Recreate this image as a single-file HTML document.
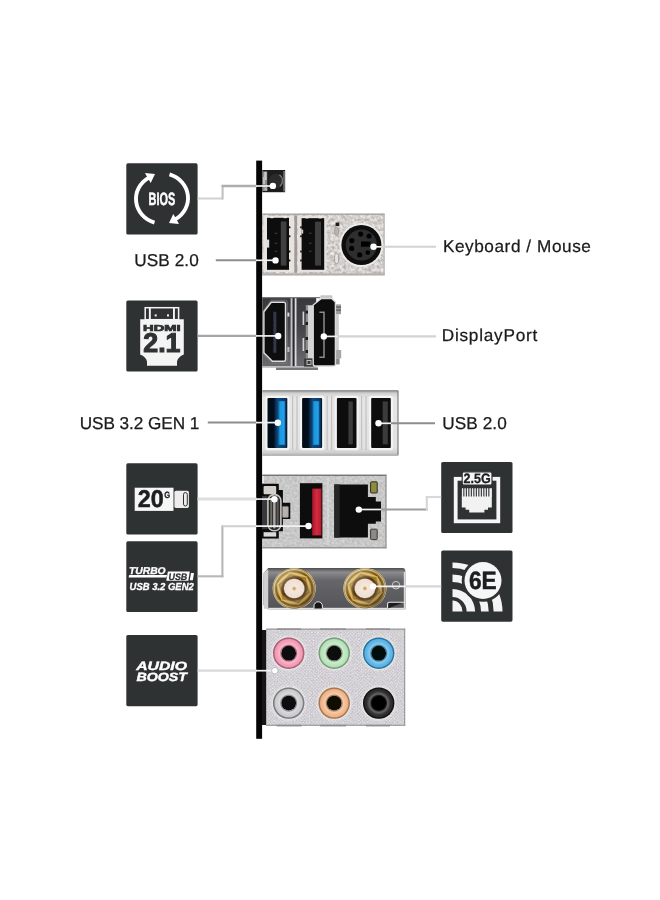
<!DOCTYPE html>
<html lang="en">
<head>
<meta charset="utf-8">
<title>Rear I/O Ports</title>
<style>
html,body{margin:0;padding:0;background:#fff;}
body{width:660px;height:900px;overflow:hidden;position:relative;}
svg{position:absolute;left:0;top:0;display:block;}
text{text-rendering:geometricPrecision;}
.lbl{font-family:"Liberation Sans",sans-serif;font-size:17.2px;fill:#1b1b1b;stroke:#1b1b1b;stroke-width:0.25px;}
.ic{font-family:"Liberation Sans",sans-serif;font-weight:bold;fill:#fff;}
</style>
</head>
<body>
<svg width="660" height="900" viewBox="0 0 660 900">
<defs>
<filter id="soft" x="-5%" y="-5%" width="110%" height="110%"><feGaussianBlur stdDeviation="0.45"/></filter>
<filter id="soft2" x="-5%" y="-5%" width="110%" height="110%"><feGaussianBlur stdDeviation="0.3"/></filter>
<filter id="tex" x="0" y="0" width="100%" height="100%" color-interpolation-filters="sRGB">
  <feTurbulence type="fractalNoise" baseFrequency="0.32" numOctaves="2" seed="7" result="n"/>
  <feColorMatrix in="n" type="matrix" values="1 0 0 0 0  1 0 0 0 0  1 0 0 0 0  0 0 0 0 1" result="g"/>
  <feComposite in="SourceGraphic" in2="g" operator="arithmetic" k1="0" k2="1" k3="0.44" k4="-0.22" result="c"/>
  <feComposite in="c" in2="SourceGraphic" operator="in"/>
</filter>
<filter id="tex3" x="0" y="0" width="100%" height="100%" color-interpolation-filters="sRGB">
  <feTurbulence type="fractalNoise" baseFrequency="0.4" numOctaves="2" seed="21" result="n"/>
  <feColorMatrix in="n" type="matrix" values="1 0 0 0 0  1 0 0 0 0  1 0 0 0 0  0 0 0 0 1" result="g"/>
  <feComposite in="SourceGraphic" in2="g" operator="arithmetic" k1="0" k2="1" k3="0.2" k4="-0.1" result="c"/>
  <feComposite in="c" in2="SourceGraphic" operator="in"/>
</filter>
<filter id="tex2" x="0" y="0" width="100%" height="100%" color-interpolation-filters="sRGB">
  <feTurbulence type="fractalNoise" baseFrequency="0.75" numOctaves="2" seed="11" result="n"/>
  <feColorMatrix in="n" type="matrix" values="1 0 0 0 0  1 0 0 0 0  1 0 0 0 0  0 0 0 0 1" result="g"/>
  <feComposite in="SourceGraphic" in2="g" operator="arithmetic" k1="0" k2="1" k3="0.2" k4="-0.1" result="c"/>
  <feComposite in="c" in2="SourceGraphic" operator="in"/>
</filter>
<linearGradient id="silverV" x1="0" y1="0" x2="0" y2="1">
  <stop offset="0" stop-color="#b9b5b1"/><stop offset="0.06" stop-color="#d6d2cf"/>
  <stop offset="0.9" stop-color="#cdc9c6"/><stop offset="1" stop-color="#aaa6a3"/>
</linearGradient>
<linearGradient id="usb3V" x1="0" y1="0" x2="0" y2="1">
  <stop offset="0" stop-color="#9a9a9a"/><stop offset="0.05" stop-color="#d2d2d2"/>
  <stop offset="0.12" stop-color="#e6e6e6"/><stop offset="0.88" stop-color="#e2e2e2"/>
  <stop offset="0.95" stop-color="#cfcfcf"/><stop offset="1" stop-color="#b4b4b4"/>
</linearGradient>
<linearGradient id="blueT" x1="0" y1="0" x2="1" y2="0">
  <stop offset="0" stop-color="#1272b0"/><stop offset="0.3" stop-color="#1d9ae2"/><stop offset="0.8" stop-color="#22a0e8"/><stop offset="1" stop-color="#1474b8"/>
</linearGradient>
<linearGradient id="redT" x1="0" y1="0" x2="1" y2="0">
  <stop offset="0" stop-color="#a81a2a"/><stop offset="0.5" stop-color="#d62a40"/><stop offset="1" stop-color="#b41c2e"/>
</linearGradient>
<linearGradient id="antV" x1="0" y1="0" x2="0" y2="1">
  <stop offset="0" stop-color="#4a4a4c"/><stop offset="0.1" stop-color="#8c8c8e"/>
  <stop offset="0.3" stop-color="#66666a"/><stop offset="1" stop-color="#545458"/>
</linearGradient>
<radialGradient id="gold" cx="0.5" cy="0.5" r="0.5">
  <stop offset="0" stop-color="#f5eae0"/><stop offset="0.46" stop-color="#f0dfd2"/>
  <stop offset="0.52" stop-color="#46290a"/><stop offset="0.6" stop-color="#6a4810"/>
  <stop offset="0.66" stop-color="#cfa444"/><stop offset="0.78" stop-color="#c0933a"/>
  <stop offset="0.84" stop-color="#644412"/><stop offset="0.9" stop-color="#86601c"/>
  <stop offset="0.95" stop-color="#dfbe62"/><stop offset="1" stop-color="#70501c"/>
</radialGradient>
<linearGradient id="goldSh" x1="0.15" y1="0.1" x2="0.85" y2="0.9">
  <stop offset="0" stop-color="#fff6c8" stop-opacity="0.5"/><stop offset="0.45" stop-color="#fff" stop-opacity="0"/>
  <stop offset="1" stop-color="#241400" stop-opacity="0.5"/>
</linearGradient>
<linearGradient id="navy" x1="0" y1="0" x2="1" y2="0">
  <stop offset="0" stop-color="#040a14"/><stop offset="0.3" stop-color="#05101f"/><stop offset="0.52" stop-color="#0b4a7c"/><stop offset="0.9" stop-color="#0a3a64"/><stop offset="1" stop-color="#040e1c"/>
</linearGradient>
<linearGradient id="hdmiBg" x1="0" y1="0" x2="0" y2="1">
  <stop offset="0" stop-color="#38383c"/><stop offset="0.45" stop-color="#45454a"/><stop offset="1" stop-color="#6c6c70"/>
</linearGradient>
<pattern id="dots" width="2.4" height="2.4" patternUnits="userSpaceOnUse" patternTransform="rotate(45 266 628)">
  <rect width="2.4" height="2.4" fill="#cac8cc"/><circle cx="1.2" cy="1.2" r="0.85" fill="#e4e2e6"/>
</pattern>
<radialGradient id="jackSh" cx="0.5" cy="0.5" r="0.5">
  <stop offset="0.46" stop-color="#000" stop-opacity="0"/><stop offset="0.5" stop-color="#000" stop-opacity="0.35"/>
  <stop offset="0.58" stop-color="#fff" stop-opacity="0.28"/><stop offset="0.78" stop-color="#fff" stop-opacity="0"/>
  <stop offset="0.9" stop-color="#000" stop-opacity="0.05"/><stop offset="1" stop-color="#000" stop-opacity="0.2"/>
</radialGradient>
<radialGradient id="halo" cx="0.5" cy="0.5" r="0.5">
  <stop offset="0.8" stop-color="#fff" stop-opacity="0.5"/><stop offset="1" stop-color="#fff" stop-opacity="0"/>
</radialGradient>

</defs>

<g opacity="0.999">
<!-- ===== back plate bar ===== -->
<rect x="256.2" y="160.6" width="5.9" height="578.2" fill="#050505"/>

<!-- ===== icon boxes ===== -->
<g fill="#2f3233">
<rect x="126.3" y="163.3" width="71.3" height="71.2" rx="1.6"/>
<rect x="126.3" y="300.4" width="71.3" height="71.2" rx="1.6"/>
<rect x="126.3" y="463.3" width="71.3" height="71.2" rx="1.6"/>
<rect x="126.3" y="541.3" width="71.3" height="70.8" rx="1.6"/>
<rect x="126.3" y="635" width="71.3" height="71.2" rx="1.6"/>
<rect x="441.2" y="462" width="71.3" height="71.1" rx="1.6"/>
<rect x="441.2" y="550.5" width="71.3" height="71.2" rx="1.6"/>
</g>

<!-- ===== BIOS flash button ===== -->
<g filter="url(#soft2)">
<rect x="262.3" y="170" width="22.8" height="22.2" fill="#1b1b1b"/>
<rect x="262.6" y="171.4" width="4.6" height="19.6" fill="#8c8c8c"/>
<rect x="264.2" y="172" width="2.4" height="8" fill="#c8c8c8"/><rect x="263" y="177" width="2" height="7" fill="#bdbdbd"/><rect x="264.6" y="187.6" width="2.6" height="3" fill="#b4b4b4"/>
<rect x="283.2" y="171" width="1.9" height="20.4" fill="#6e6e6e"/>
<circle cx="276" cy="181" r="7.4" fill="#2a2a2a"/>
<path d="M279.4 174.8a7.4 7.4 0 0 1 0.4 11.6" fill="none" stroke="#7a7a7a" stroke-width="1.2"/>
</g>

<!-- ===== USB 2.0 + PS/2 block ===== -->
<g filter="url(#soft2)">
<rect x="262.2" y="213.7" width="122.2" height="61.6" fill="#d3cfcd" filter="url(#tex)"/>
<rect x="262.2" y="213.6" width="122.4" height="1.3" fill="#a9a5a2"/>
<rect x="262.2" y="273.4" width="122.4" height="2" fill="#b4b0ad"/>
<rect x="383.5" y="213.7" width="1.1" height="61.6" fill="#b6b2af"/>
<rect x="263.4" y="216" width="30.6" height="56" fill="#e9e3e0"/>
<rect x="297.6" y="216" width="29" height="56" fill="#e6e1de"/>
<rect x="294.4" y="215.4" width="2.6" height="57.4" fill="#9e9a98"/>
<rect x="267" y="217.8" width="22" height="52" fill="#0c0c0c"/>
<rect x="280.8" y="221.4" width="5.6" height="44.2" fill="#414141"/>
<rect x="266.6" y="239.6" width="2.6" height="8" fill="#e2dcd8"/>
<g fill="#0c0c0c"><rect x="288.8" y="226.4" width="1.6" height="1.8"/><rect x="288.8" y="235.4" width="1.6" height="1.8"/><rect x="288.8" y="250.6" width="1.6" height="1.8"/><rect x="288.8" y="259.6" width="1.6" height="1.8"/></g>
<rect x="270.4" y="216.4" width="3" height="1.8" fill="#f2eeec"/><rect x="283.6" y="216.4" width="3" height="1.8" fill="#f2eeec"/>
<rect x="301.6" y="218.2" width="22.6" height="51.6" fill="#0c0c0c"/>
<rect x="315" y="221.6" width="6" height="44" fill="#3e3e3e"/>
<g fill="#0c0c0c"><rect x="300.2" y="226.4" width="1.6" height="1.8"/><rect x="300.2" y="235.4" width="1.6" height="1.8"/><rect x="300.2" y="250.6" width="1.6" height="1.8"/><rect x="300.2" y="259.6" width="1.6" height="1.8"/></g><rect x="301.4" y="229.6" width="1.8" height="4" fill="#d8d2ce"/>

<rect x="305.4" y="216.6" width="3" height="1.8" fill="#f2eeec"/><rect x="318.6" y="216.6" width="3" height="1.8" fill="#f2eeec"/>
<g fill="#3a3a3a"><rect x="274.6" y="232.6" width="2.6" height="1.2"/><rect x="274.6" y="242.6" width="2.6" height="1.2"/><rect x="274.6" y="250.6" width="2.6" height="1.2"/>
<rect x="309" y="232.6" width="2.6" height="1.2"/><rect x="309" y="242.6" width="2.6" height="1.2"/><rect x="309" y="250.6" width="2.6" height="1.2"/></g>
<rect x="335.6" y="222.6" width="3.6" height="3.4" fill="#1a1a1a"/>
<rect x="334.6" y="227.4" width="4" height="8" rx="2" fill="#b8b4b0" stroke="#8e8a86" stroke-width="0.6"/>
<rect x="334.6" y="253.6" width="4" height="10" rx="2" fill="#e6e2de" stroke="#8e8a86" stroke-width="0.7"/>
<circle cx="361.4" cy="245" r="22" fill="#efecea"/>
<circle cx="361.4" cy="245" r="20" fill="#0e0e0e"/>
<circle cx="361.4" cy="245" r="15.6" fill="#2d2d2d"/>
<g fill="#060606">
<circle cx="360.6" cy="234" r="2.6"/><circle cx="369" cy="236" r="2.6"/>
<circle cx="351.8" cy="240.6" r="2.6"/><circle cx="351.6" cy="248.4" r="2.6"/>
<circle cx="359.6" cy="254.8" r="2.6"/><circle cx="367.8" cy="252.6" r="2.4"/>
<rect x="361" y="241.4" width="9.4" height="5.4"/>
</g>
</g>

<!-- ===== HDMI + DisplayPort block ===== -->
<g filter="url(#soft2)">
<rect x="262.2" y="297.2" width="54" height="70.2" fill="url(#hdmiBg)"/>
<rect x="262.2" y="297" width="58" height="1.2" fill="#77777a"/>
<rect x="262.2" y="366.2" width="56" height="1.3" fill="#cfcfcf"/>
<rect x="276" y="367.6" width="42" height="2.4" fill="#77777a"/>
<rect x="290.6" y="298.2" width="2.1" height="68" fill="#c4c4c6"/>
<rect x="292.7" y="298.2" width="2" height="68" fill="#2c2c2e"/>
<rect x="294.7" y="298.2" width="1.8" height="68" fill="#dcdcdc"/>
<path d="M271.2 300.2H285.4Q287.2 300.2 287.2 302V362Q287.2 363.4 285.6 363.4H271.8L262.8 354V311.6Z" fill="none" stroke="#77777a" stroke-width="0.9"/>
<rect x="287.4" y="312.6" width="2" height="4" fill="#d8d8d8"/><rect x="287.4" y="347" width="2" height="5" fill="#bdbdbd"/>
<rect x="302.6" y="311.6" width="1.6" height="13.4" fill="#d6d6d6"/><rect x="302.6" y="338" width="1.6" height="13" fill="#d6d6d6"/>
<rect x="305.8" y="305" width="7.4" height="54" fill="#8e8e90"/>
<rect x="308" y="305.6" width="5" height="52.4" fill="#d4d4d4"/>
<rect x="305.6" y="310.6" width="2.4" height="3" fill="#1c1c1c"/><rect x="305.6" y="322" width="2.4" height="3" fill="#1c1c1c"/><rect x="305.6" y="337" width="2.4" height="3" fill="#1c1c1c"/><rect x="305.6" y="350" width="2.4" height="3" fill="#1c1c1c"/>
<rect x="304" y="358.6" width="9.6" height="8" fill="#3a3a3c"/>
<rect x="307" y="360.4" width="4" height="4" fill="none" stroke="#cfcfcf" stroke-width="0.9"/>
<path d="M271.3 302.3H283.9Q285.5 302.3 285.5 303.8V359.7Q285.5 361.2 283.9 361.2H272.4L263.9 352.8V311.7Z" fill="#0f0f11" stroke="#dedede" stroke-width="1.4" stroke-linejoin="round"/>
<rect x="273.3" y="311.8" width="3" height="41" fill="#34384a"/>
<g fill="#101014"><rect x="272" y="322" width="1.6" height="1.4"/><rect x="272" y="326.6" width="1.6" height="1.4"/><rect x="272" y="331" width="1.6" height="1.4"/><rect x="272" y="340" width="1.6" height="1.4"/><rect x="272" y="344.6" width="1.6" height="1.4"/></g>
<rect x="320.4" y="295.2" width="12" height="3.2" rx="1" fill="#c6c6c6"/>
<rect x="336" y="304.4" width="5" height="9.8" fill="#9c9c9c"/>
<rect x="336" y="306.4" width="5" height="1.4" fill="#5c5c5c"/><rect x="336" y="309.4" width="5" height="1.4" fill="#5c5c5c"/>
<rect x="335.6" y="314" width="3.2" height="36" fill="#cdcdcd"/>
<rect x="336" y="350" width="5.2" height="8.4" fill="#a6a6a6"/>
<rect x="335.6" y="358.4" width="4" height="6" fill="#8a8a8a"/>
<path d="M313.2 305L321.4 298.5H331.6L335.4 301.9V364.4Q335.4 366 333.6 366H315.2Q313.2 366 313.2 364Z" fill="#0c0c0e" stroke="#dadada" stroke-width="1.4" stroke-linejoin="round"/>
<path d="M319.4 312.2H324V357.2H319.4" fill="none" stroke="#8c8c90" stroke-width="1.5"/>
</g>

<!-- ===== USB 3.2 Gen1 + USB 2.0 block ===== -->
<g filter="url(#soft2)">
<rect x="262.2" y="390.3" width="136.3" height="65.4" rx="1.6" fill="url(#usb3V)"/>
<rect x="262.2" y="390.3" width="136.3" height="1.1" fill="#8c8c8c"/>
<rect x="397.4" y="391" width="1.1" height="64" fill="#7c7c7c"/>
<rect x="262.2" y="454.6" width="136.3" height="1.1" fill="#b0b0b0"/>
<g fill="#f4f4f4">
<rect x="265.4" y="395.8" width="24" height="54.4" rx="1.6"/><rect x="300" y="395.8" width="24.2" height="54.4" rx="1.6"/>
<rect x="334.8" y="395.8" width="23.8" height="54.4" rx="1.6"/><rect x="369.1" y="395.8" width="23.8" height="54.4" rx="1.6"/>
</g>
<g fill="#c2c2c2">
<rect x="292" y="396" width="1.2" height="54"/><rect x="296.4" y="396" width="1.2" height="54"/>
<rect x="326.6" y="396" width="1.2" height="54"/><rect x="331" y="396" width="1.2" height="54"/>
<rect x="361" y="396" width="1.2" height="54"/><rect x="365.4" y="396" width="1.2" height="54"/>
</g>
<rect x="267.5" y="397.9" width="19.8" height="50.2" rx="1" fill="url(#navy)"/>
<rect x="278.4" y="401.2" width="6.7" height="43.6" fill="url(#blueT)"/>
<rect x="302.1" y="397.9" width="20" height="50.2" rx="1" fill="url(#navy)"/>
<rect x="312.7" y="401.2" width="6.6" height="43.6" fill="url(#blueT)"/>
<rect x="336.9" y="397.9" width="19.6" height="50" rx="1" fill="#0b0b0b"/>
<rect x="348.4" y="401.4" width="4.4" height="43" fill="#3b3b3b"/>
<rect x="371.2" y="397.9" width="19.6" height="50" rx="1" fill="#0b0b0b"/>
<rect x="382.6" y="401.4" width="5.2" height="43" fill="#3b3b3b"/>
</g>

<!-- ===== USB-C + USB 3.2 Gen2 + LAN block ===== -->
<g filter="url(#soft2)">
<rect x="262.2" y="474.8" width="124.2" height="73.5" fill="#c8c8c8" filter="url(#tex3)"/>
<rect x="262.2" y="474.6" width="124.2" height="1.3" fill="#6e6e6e"/>
<rect x="385.4" y="474.8" width="1.1" height="73.5" fill="#8a8a8a"/>
<rect x="262.2" y="547.1" width="124.2" height="1.3" fill="#8e8e8e"/>
<path d="M261.8 483.8H278.8V490H282.9V502.8H290.3V518.9H282.9V531.2H278.8V538.6H261.8Z" fill="#0d0d0d"/>
<rect x="262.4" y="476" width="1.6" height="7" fill="#e8e8e8"/>
<rect x="263.6" y="486" width="12.6" height="8.2" rx="1" fill="#d4d0cc"/>
<rect x="263.6" y="532.2" width="12.6" height="4.4" fill="#dadada"/>
<rect x="262" y="496" width="5.4" height="33" fill="#38383c"/>
<rect x="282.4" y="506.4" width="6" height="11" rx="0.8" fill="#b6b2ae" stroke="#7c7a78" stroke-width="0.6"/>
<rect x="267.9" y="494.6" width="13" height="36.2" rx="6.2" fill="#262626" stroke="#c8c5c1" stroke-width="1.6"/>
<rect x="270.2" y="498" width="2" height="30" fill="#6e6a66"/>
<rect x="273.1" y="497.4" width="2.5" height="31" rx="1" fill="#a8a6a4"/>
<rect x="276.6" y="498" width="2" height="30" fill="#5e5a58"/>
<rect x="299.9" y="483.2" width="22.5" height="55.2" fill="#0e0e0e"/>
<rect x="312.2" y="488.6" width="9.2" height="46.8" fill="url(#redT)"/>
<rect x="327.4" y="477" width="1.2" height="68" fill="#dedede"/>
<path d="M334.3 484.4H367.9V497.1H375.8V501.4H381V521.4H375.8V523.8H367.9V537.6H334.3Z" fill="#0c0c0c"/>
<rect x="334.3" y="484.4" width="5.4" height="53.2" fill="#262626"/>
<rect x="370.6" y="481.8" width="6.6" height="11.2" rx="0.8" fill="#8e8c42" stroke="#2e2e1a" stroke-width="1"/>
<rect x="370.6" y="529.2" width="6.6" height="10.4" rx="0.8" fill="#8c8884" stroke="#3a3a3a" stroke-width="1"/>
</g>

<!-- ===== Wi-Fi antenna block ===== -->
<g filter="url(#soft2)">
<path d="M268.2 568H402.4Q405.4 568 405.4 571V609.2H268.2L263.6 605V573Z" fill="url(#antV)"/>
<path d="M263.8 573L268.2 569V608.8H263.8Z" fill="#cfcfcf"/>
<rect x="268.2" y="607.8" width="137" height="1.4" fill="#e2e2e2"/>
<rect x="403.8" y="572" width="1.4" height="37" fill="#dadada"/>
<path d="M387.6 608.6V604Q387.6 602.2 389.4 602.2H404" fill="#1a1a1a" stroke="#e8e8e8" stroke-width="1.1"/>
<path d="M314 608.6V606a4.2 4.2 0 0 1 8.4 0V608.6" fill="#161616" stroke="#e8e8e8" stroke-width="1"/>
<circle cx="396" cy="585.2" r="3.8" fill="#6a6a6c" stroke="#c8c8c8" stroke-width="1"/>
<ellipse cx="294.2" cy="588.5" rx="21.6" ry="20.4" fill="#e6dfc8"/><ellipse cx="294.2" cy="588.5" rx="21.1" ry="19.9" fill="url(#gold)"/><path d="M311.2 592.8L298.8 604.5L281.8 600.2L277.2 584.2L289.6 572.5L306.6 576.8Z" fill="none" stroke="#f0d888" stroke-width="1.2" stroke-opacity="0.55"/><path d="M308.7 592.2L298.1 602.2L283.6 598.5L279.7 584.8L290.3 574.8L304.8 578.5Z" fill="none" stroke="#4a3008" stroke-width="1.6" stroke-opacity="0.4"/>
<path d="M294.2 568.8a21 19.8 0 1 0 0.01 0ZM294.2 578.6a10.4 9.9 0 1 1 -0.01 0Z" fill="url(#goldSh)" fill-rule="evenodd"/>
<circle cx="294.2" cy="588.6" r="1.9" fill="#d0a850" stroke="#e9d3b4" stroke-width="0.8"/>
<ellipse cx="364.9" cy="588.4" rx="21.6" ry="20.4" fill="#e6dfc8"/><ellipse cx="364.9" cy="588.4" rx="21.1" ry="19.9" fill="url(#gold)"/><path d="M381.9 592.7L369.5 604.4L352.5 600.1L347.9 584.1L360.3 572.4L377.3 576.7Z" fill="none" stroke="#f0d888" stroke-width="1.2" stroke-opacity="0.55"/><path d="M379.4 592.1L368.8 602.1L354.3 598.4L350.4 584.7L361.0 574.7L375.5 578.4Z" fill="none" stroke="#4a3008" stroke-width="1.6" stroke-opacity="0.4"/>
<path d="M364.9 568.7a21 19.8 0 1 0 0.01 0ZM364.9 578.5a10.4 9.9 0 1 1 -0.01 0Z" fill="url(#goldSh)" fill-rule="evenodd"/>
<circle cx="364.9" cy="588.4" r="1.9" fill="#d0a850" stroke="#e9d3b4" stroke-width="0.8"/>
</g>

<!-- ===== Audio block ===== -->
<g filter="url(#soft2)">
<rect x="262" y="630" width="4.4" height="95" fill="#161616"/>
<rect x="266.2" y="628.6" width="139" height="97.4" fill="url(#dots)" filter="url(#tex2)"/>
<rect x="266.2" y="628.6" width="139" height="1.2" fill="#9a9a9a"/>
<rect x="404" y="628.6" width="1.2" height="97.4" fill="#9c9c9c"/>
<rect x="266.2" y="724.6" width="139" height="1.4" fill="#a4a4a4"/>
<g fill="#8e8e90"><rect x="276.6" y="724.8" width="25" height="1.6"/><rect x="320" y="724.8" width="26" height="1.6"/><rect x="366" y="724.8" width="24" height="1.6"/><rect x="277" y="628.4" width="24" height="1.4"/><rect x="320" y="628.4" width="26" height="1.4"/><rect x="366" y="628.4" width="24" height="1.4"/></g>
<g>
<circle cx="288.7" cy="653.2" r="19" fill="url(#halo)"/><circle cx="334.2" cy="653.2" r="19" fill="url(#halo)"/><circle cx="378.7" cy="653.2" r="19" fill="url(#halo)"/><circle cx="288.7" cy="703.1" r="19" fill="url(#halo)"/><circle cx="334.2" cy="703.1" r="19" fill="url(#halo)"/><circle cx="378.7" cy="703.1" r="19" fill="url(#halo)"/>
<circle cx="288.7" cy="653.2" r="15.7" fill="#c66e88"/><circle cx="288.7" cy="653.2" r="14.2" fill="#f49cb6"/><circle cx="288.7" cy="653.2" r="7.4" fill="#0c0808"/>
<circle cx="334.2" cy="653.2" r="15.7" fill="#86b48c"/><circle cx="334.2" cy="653.2" r="14.2" fill="#b9e4ba"/><circle cx="334.2" cy="653.2" r="7.4" fill="#080c08"/>
<circle cx="378.7" cy="653.2" r="15.7" fill="#2f86bd"/><circle cx="378.7" cy="653.2" r="14.2" fill="#5db5e6"/><circle cx="378.7" cy="653.2" r="7.4" fill="#06080c"/>
<circle cx="288.7" cy="703.1" r="15.7" fill="#8c8c8e"/><circle cx="288.7" cy="703.1" r="14.2" fill="#cdcdd1"/><circle cx="288.7" cy="703.1" r="7.4" fill="#0a0a0a"/>
<circle cx="334.2" cy="703.1" r="15.7" fill="#c48656"/><circle cx="334.2" cy="703.1" r="14.2" fill="#f1b78c"/><circle cx="334.2" cy="703.1" r="7.4" fill="#0c0806"/>
<circle cx="378.7" cy="703.1" r="15.7" fill="#141414"/><circle cx="378.7" cy="703.1" r="14.2" fill="#2c2c2c"/><circle cx="378.7" cy="703.1" r="7.4" fill="#050505"/>
<circle cx="288.7" cy="653.2" r="15.7" fill="url(#jackSh)"/><circle cx="334.2" cy="653.2" r="15.7" fill="url(#jackSh)"/><circle cx="378.7" cy="653.2" r="15.7" fill="url(#jackSh)"/><circle cx="288.7" cy="703.1" r="15.7" fill="url(#jackSh)"/><circle cx="334.2" cy="703.1" r="15.7" fill="url(#jackSh)"/><circle cx="378.7" cy="703.1" r="15.7" fill="url(#jackSh)"/>
</g>
</g>


<!-- ===== leader lines ===== -->
<g fill="none" stroke-width="2.1" filter="url(#soft2)">
<path d="M197.6 198.5H222.6" stroke="#d2d2d2"/>
<path d="M222.6 199.5V185" stroke="#c2c2c2"/>
<path d="M221.6 186H256.4" stroke="#adadad" stroke-width="2.4"/>
<path d="M215.8 260.2H256.4" stroke="#8d8d8d"/>
<path d="M381.4 246.8H436" stroke="#d3d3d3"/>
<path d="M197.6 335.9H256.4" stroke="#a6a6a6" stroke-width="2.3"/>
<path d="M337 336.4H436" stroke="#d3d3d3"/>
<path d="M207.8 422.5H256.4" stroke="#8d8d8d"/>
<path d="M390.8 423.2H435" stroke="#8d8d8d"/>
<path d="M197.6 499H256.4" stroke="#dedede" stroke-width="2.8"/>
<path d="M197.6 576.3H223.4" stroke="#b8b8b8"/>
<path d="M222.4 577.3V525.2" stroke="#b6b6b6"/>
<path d="M221.4 526.2H256.4" stroke="#cfcfcf"/>
<path d="M381 509.5H427.8" stroke="#9c9c9c"/>
<path d="M426.8 510.5V496" stroke="#d6d6d6"/>
<path d="M425.8 497H441.2" stroke="#d8d8d8"/>
<path d="M405.4 586.4H441.2" stroke="#d6d6d6"/>
<path d="M197.6 670.6H256.4" stroke="#d8d8d8" stroke-width="2.4"/>
</g>
<g fill="none" stroke="#f2f2f2" stroke-width="1.7">
<path d="M256 186H272"/>
<path d="M256 260.3H275"/>
<path d="M374 246.8H381.6"/>
<path d="M256 335.9H278"/>
<path d="M324 336.4H337.4"/>
<path d="M256 422.6H277"/>
<path d="M379 423.3H391"/>
<path d="M256 499.1H274"/>
<path d="M256 526.1H308"/>
<path d="M359 509.5H381.2"/>
<path d="M373 586.4H405.6"/>
<path d="M256 670.7H274"/>
</g>
<g fill="#fff">
<circle cx="272.9" cy="185.9" r="3.2"/>
<circle cx="275.5" cy="260.4" r="3.2"/>
<circle cx="373.5" cy="246.8" r="3.2"/>
<circle cx="278.2" cy="336" r="3.2"/>
<circle cx="323.8" cy="336.4" r="3.2"/>
<circle cx="277.8" cy="422.7" r="3.2"/>
<circle cx="378.5" cy="423.3" r="3.2"/>
<circle cx="274.4" cy="499.3" r="3.2"/>
<circle cx="308.5" cy="526" r="3.2"/>
<circle cx="358.8" cy="509.6" r="3.2"/>
<circle cx="373" cy="586.4" r="3.2"/>
<circle cx="274.8" cy="670.7" r="3.2" stroke="#8f8f8f" stroke-width="0.5"/>
</g>


<!-- ===== BIOS icon ===== -->
<g id="bios">
<g id="biosArc">
<path d="M154.5 222.6A26.4 24.8 0 0 1 148.9 177.6" fill="none" stroke="#fff" stroke-width="3.9"/>
<path d="M144.9 173.1L155 174.1L150.7 183Z" fill="#fff"/>
</g>
<g transform="rotate(180 162 198.5)">
<path d="M154.5 222.6A26.4 24.8 0 0 1 148.9 177.6" fill="none" stroke="#fff" stroke-width="3.9"/>
<path d="M144.9 173.1L155 174.1L150.7 183Z" fill="#fff"/>
</g>
<text class="ic" x="148.6" y="205" font-size="17.8" textLength="26.8" lengthAdjust="spacingAndGlyphs" stroke="#fff" stroke-width="0.45">BIOS</text>
</g>

<!-- ===== HDMI 2.1 icon ===== -->
<g id="hdmi">
<path d="M140.2 319.3H183.8V354.6Q178 357 177 361.4V365.7H147V361.4Q146 357 140.2 354.6Z" fill="#f4f4f4"/>
<rect x="145.2" y="307.7" width="33.4" height="12" fill="none" stroke="#f4f4f4" stroke-width="1.5"/>
<rect x="148.9" y="308" width="1.9" height="11.4" fill="#f4f4f4"/>
<rect x="173" y="308" width="1.9" height="11.4" fill="#f4f4f4"/>
<rect x="154.7" y="314.4" width="2" height="2" fill="#f4f4f4"/>
<rect x="167" y="314.4" width="2" height="2" fill="#f4f4f4"/>
<text x="143.1" y="330.9" font-family="'Liberation Sans',sans-serif" font-weight="bold" font-size="8.6" fill="#2f3233" stroke="#2f3233" stroke-width="0.7" textLength="37.4" lengthAdjust="spacingAndGlyphs">HDMI</text>
<text x="143.3" y="352.3" font-family="'Liberation Sans',sans-serif" font-weight="bold" font-size="27.2" fill="#2f3233" stroke="#2f3233" stroke-width="1.1" textLength="37.2" lengthAdjust="spacingAndGlyphs">2.1</text>
</g>

<!-- ===== 20G icon ===== -->
<g id="g20">
<rect x="134.7" y="487.7" width="38.8" height="23.2" fill="#f6f6f6"/>
<rect x="174.4" y="490.7" width="14.5" height="17.2" rx="1.6" fill="#ededed"/>
<rect x="183.5" y="492.6" width="3.8" height="13.4" rx="1.9" fill="#ececec" stroke="#303030" stroke-width="1"/>
<text x="137.7" y="507.2" font-family="'Liberation Sans',sans-serif" font-weight="bold" font-size="24.2" fill="#1c1e1f" stroke="#1c1e1f" stroke-width="0.5" textLength="26" lengthAdjust="spacingAndGlyphs">20</text>
<text x="164.3" y="497.9" font-family="'Liberation Sans',sans-serif" font-weight="bold" font-size="9.2" fill="#1c1e1f" stroke="#1c1e1f" stroke-width="0.3" textLength="5.9" lengthAdjust="spacingAndGlyphs">G</text>
</g>

<!-- ===== Turbo USB icon ===== -->
<g id="turbo">
<text x="129" y="574.3" font-family="'Liberation Sans',sans-serif" font-weight="bold" font-style="italic" font-size="9.8" fill="#fff" stroke="#fff" stroke-width="0.3" textLength="36.6" lengthAdjust="spacingAndGlyphs">TURBO</text>
<path d="M129.2 575.1H167L166.4 577.5H128.6Z" fill="#fff"/>
<path d="M167.9 571.5H189.8L188.3 580.8H166.3Z" fill="#fff"/>
<path d="M191 573H194L192.8 580.2H189.8Z" fill="#fff"/>
<text x="168.5" y="579.8" font-family="'Liberation Sans',sans-serif" font-weight="bold" font-style="italic" font-size="9.4" fill="#2f3233" stroke="#2f3233" stroke-width="0.3" textLength="18.8" lengthAdjust="spacingAndGlyphs">USB</text>
<text x="129.6" y="590.4" font-family="'Liberation Sans',sans-serif" font-weight="bold" font-style="italic" font-size="10.2" fill="#fff" stroke="#fff" stroke-width="0.3" textLength="64.2" lengthAdjust="spacingAndGlyphs">USB 3.2 GEN2</text>
</g>

<!-- ===== Audio Boost icon ===== -->
<g id="audio">
<text x="136.2" y="669.6" font-family="'Liberation Sans',sans-serif" font-weight="bold" font-style="italic" font-size="12" fill="#fff" stroke="#fff" stroke-width="0.4" textLength="50.8" lengthAdjust="spacingAndGlyphs">AUDIO</text>
<text x="136.4" y="680.5" font-family="'Liberation Sans',sans-serif" font-weight="bold" font-style="italic" font-size="12" fill="#fff" stroke="#fff" stroke-width="0.4" textLength="50.6" lengthAdjust="spacingAndGlyphs">BOOST</text>
</g>

<!-- ===== 2.5G LAN icon ===== -->
<g id="lan">
<rect x="455.7" y="478.8" width="42.6" height="42.5" fill="none" stroke="#f6f6f6" stroke-width="3.8"/>
<rect x="462.2" y="471.8" width="29.8" height="13.2" rx="1.6" fill="#f6f6f6" stroke="#2f3233" stroke-width="1.2"/>
<text x="463.6" y="483.3" font-family="'Liberation Sans',sans-serif" font-weight="bold" font-size="13.6" fill="#1c1e1f" stroke="#1c1e1f" stroke-width="0.3" textLength="27.1" lengthAdjust="spacingAndGlyphs">2.5G</text>
<path d="M461.8 496.6H491.8V507.6H488V509.8H484.4V512.4H469.2V509.8H465.6V507.6H461.8Z" fill="#f2f2f2"/>
<path d="M462.6 488.2V497M465.1 488.2V497M467.6 488.2V497M470.1 488.2V497M472.6 488.2V497M475.1 488.2V497M477.6 488.2V497M480.1 488.2V497M482.6 488.2V497M485.1 488.2V497M487.6 488.2V497M490.1 488.2V497M491.2 488.2V497" stroke="#f2f2f2" stroke-width="1.4" fill="none"/>
</g>

<!-- ===== Wi-Fi 6E icon ===== -->
<g id="wifi">
<g fill="#f4f4f4">
<path d="M452.5 611.5V600.6A10 10.9 0 0 1 462.5 611.5Z"/>
<path d="M452.5 597V589A22.6 22.5 0 0 1 475.1 611.5H466.6A14.1 14.5 0 0 0 452.5 597Z"/>
<path d="M452.5 582V574.6A36.2 36.9 0 0 1 488.7 611.5H481A28.5 29.5 0 0 0 452.5 582Z"/>
<path d="M452.5 568V562.4A50 49.1 0 0 1 502.5 611.5H493.6A41.1 43.5 0 0 0 452.5 568Z"/>
</g>
<circle cx="483" cy="580.5" r="21.3" fill="#2f3233"/>
<circle cx="483" cy="580.5" r="18.5" fill="#f6f6f6"/>
<text x="468.9" y="588.8" font-family="'Liberation Sans',sans-serif" font-weight="bold" font-size="25" fill="#1c1e1f" stroke="#1c1e1f" stroke-width="0.5" textLength="27.8" lengthAdjust="spacingAndGlyphs">6E</text>
</g>


<!-- ===== labels ===== -->
<g class="lbl">
<text x="134.2" y="266.2" textLength="64.6" lengthAdjust="spacing">USB 2.0</text>
<text x="442.9" y="252.3" textLength="148" lengthAdjust="spacing">Keyboard / Mouse</text>
<text x="441.7" y="341" textLength="95.6" lengthAdjust="spacing">DisplayPort</text>
<text x="79.7" y="428.6" textLength="119.6" lengthAdjust="spacing">USB 3.2 GEN 1</text>
<text x="442.2" y="429.2" textLength="64.6" lengthAdjust="spacing">USB 2.0</text>
</g>

</g>
</svg>
</body>
</html>
